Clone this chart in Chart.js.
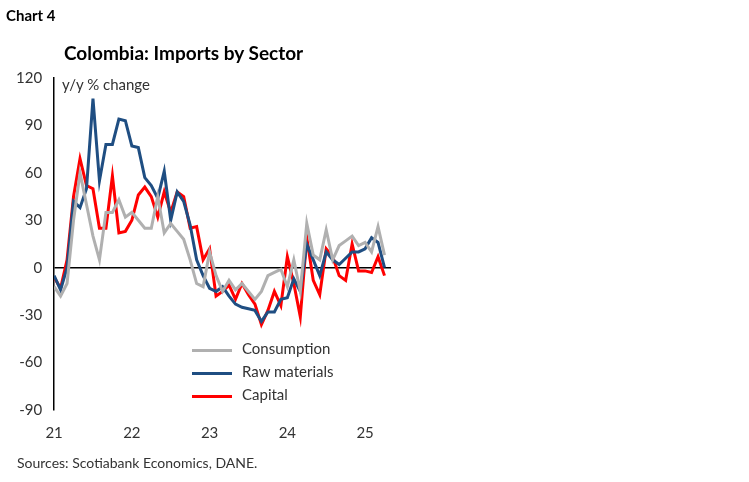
<!DOCTYPE html>
<html><head><meta charset="utf-8">
<script src="https://cdn.jsdelivr.net/npm/chart.js@4"></script>
<style>
body{margin:0;background:#fff;font-family:Lato,"Open Sans",sans-serif;}
#wrap{position:relative;width:749px;height:482px;}
.t{position:absolute;color:#000;white-space:nowrap;}
.leg{position:absolute;left:192px;font-size:15px;color:#333;}
.leg span{display:inline-block;width:40px;height:3px;vertical-align:middle;margin-right:10px;}
</style></head><body>
<div id="wrap">
<canvas id="c" width="749" height="482"></canvas>
<div class="t" style="left:6px;top:6px;font-weight:bold;font-size:15px">Chart 4</div>
<div class="t" style="left:64px;top:41px;font-weight:bold;font-size:19px">Colombia: Imports by Sector</div>
<div class="t" style="left:62px;top:75px;font-size:15px;color:#333">y/y % change</div>
<div class="leg" style="top:339px"><span style="background:#b0b0b0"></span>Consumption</div>
<div class="leg" style="top:362px"><span style="background:#1f4e82"></span>Raw materials</div>
<div class="leg" style="top:385px"><span style="background:#ff0000"></span>Capital</div>
<div class="t" style="left:17px;top:454px;font-size:14px;color:#333">Sources: Scotiabank Economics, DANE.</div>
</div>
<script>
// monthly, Jan 2021 - Apr 2025
const consumption = [-12,-18,-10,30,60,40,20,5,35,35,43,32,
  35,30,25,25,45,22,28,23,18,5,-10,-12,
  10,-5,-15,-8,-14,-10,-15,-20,-15,-5,-3,-1,
  -12,5,-15,28,8,5,24,5,14,17,20,14,
  16,10,26,8];
const rawMaterials = [-5,-14,0,42,38,50,107,55,78,78,94,93,
  77,76,57,52,44,61,30,48,42,27,5,-5,
  -13,-15,-12,-18,-23,-25,-26,-27,-34,-28,-28,-20,
  -19,-7,-15,15,5,-5,10,5,2,6,10,10,
  12,19,16,0];
const capital = [-6,-13,5,45,69,52,50,25,25,58,22,23,
  30,46,51,45,32,48,35,48,45,25,26,5,
  12,-18,-15,-11,-20,-10,-17,-23,-36,-27,-15,-24,
  7,-10,-31,19,-8,-17,12,7,-5,-8,15,-2,
  -2,-3,7,-5];
const yearLabels = ["21","22","23","24","25"];

const pts = (arr) => arr.map((v, i) => ({ x: i, y: v }));
const line = (data, color) => ({ data: pts(data), borderColor: color, borderWidth: 3, pointRadius: 0, tension: 0, fill: false });

new Chart(document.getElementById("c"), {
  type: "line",
  data: { datasets: [line(consumption, "#b0b0b0"), line(rawMaterials, "#1f4e82"), line(capital, "#ff0000")] },
  options: {
    responsive: false, animation: false,
    layout: { padding: { left: 4, right: 358, top: 78, bottom: 26 } },
    plugins: { legend: { display: false }, tooltip: { enabled: false } },
    scales: {
      x: {
        type: "linear", min: 0, max: 52,
        grid: { display: false, drawTicks: false }, border: { display: false },
        ticks: { stepSize: 12, color: "#333", font: { family: "Lato", size: 15 }, padding: 14,
          callback: (v) => yearLabels[v / 12] ?? "" },
      },
      y: {
        min: -90, max: 120,
        grid: { color: (ctx) => ctx.tick.value === 0 ? "#000" : "transparent", drawTicks: false, lineWidth: 1.5 },
        border: { color: "#000", width: 1.5 },
        ticks: { stepSize: 30, color: "#333", font: { family: "Lato", size: 15 }, padding: 12 },
      },
    },
  },
});
</script>
</body></html>
